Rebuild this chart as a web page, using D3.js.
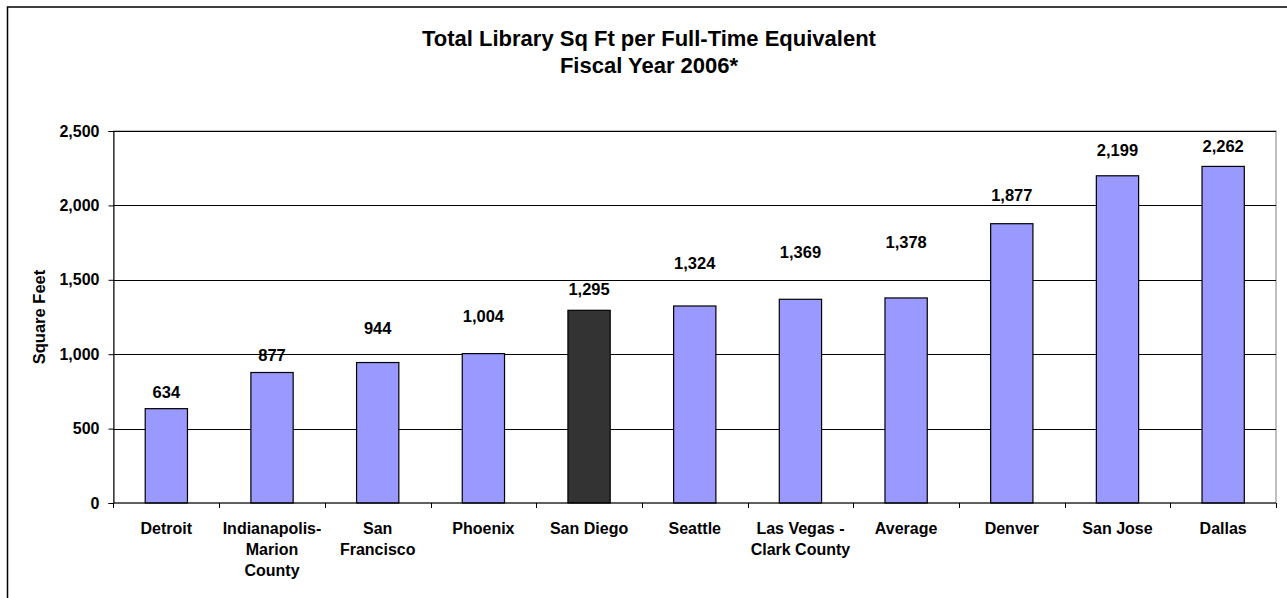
<!DOCTYPE html>
<html>
<head>
<meta charset="utf-8">
<script src="https://cdn.jsdelivr.net/npm/d3@7"></script>
<style>
  html, body { margin: 0; padding: 0; background: #fff; }
  svg { display: block; font-family: "Liberation Sans", Arial, sans-serif; }
</style>
</head>
<body>
<svg id="chart" width="1287" height="598"></svg>
<script>
// ---- data ----
const categories = [
  ["Detroit"],
  ["Indianapolis-", "Marion", "County"],
  ["San", "Francisco"],
  ["Phoenix"],
  ["San Diego"],
  ["Seattle"],
  ["Las Vegas -", "Clark County"],
  ["Average"],
  ["Denver"],
  ["San Jose"],
  ["Dallas"]
];
const values = [634, 877, 944, 1004, 1295, 1324, 1369, 1378, 1877, 2199, 2262];
const highlighted = ["San Diego"];
const yTicks = [0, 500, 1000, 1500, 2000, 2500];
const titleLines = ["Total Library Sq Ft per Full-Time Equivalent", "Fiscal Year 2006*"];
const yTitle = "Square Feet";

// ---- layout / style ----
const labelGap = [11, 12, 29, 32, 15, 37, 41, 50, 23, 20, 14]; // px above bar top (label placement as in picture)
const plot = { left: 113.5, right: 1276, top: 131, bottom: 503 };
const barColor = "#9999FF", hiColor = "#333333";

const svg = d3.select("#chart");
const keys = categories.map(c => c.join(" "));

// outer frame
svg.append("rect").attr("x", 7.5).attr("y", 7).attr("width", 1300).attr("height", 620)
  .attr("fill", "#fff").attr("stroke", "#000").attr("stroke-width", 1.5);

const x = d3.scaleBand().domain(keys).range([plot.left, plot.right]).paddingInner(0.6).paddingOuter(0.3);
const y = d3.scaleLinear().domain([0, 2500]).range([plot.bottom, plot.top]);
const step = x.step();

// plot border (gray)
svg.append("rect").attr("x", plot.left).attr("y", y(2500)).attr("width", plot.right - plot.left)
  .attr("height", plot.bottom - y(2500)).attr("fill", "none").attr("stroke", "#808080").attr("stroke-width", 1);

// gridlines
svg.append("g").selectAll("line").data(yTicks.filter(t => t > 0)).join("line")
  .attr("x1", plot.left).attr("x2", plot.right)
  .attr("y1", d => Math.round(y(d)) + 0.5).attr("y2", d => Math.round(y(d)) + 0.5)
  .attr("stroke", "#000").attr("stroke-width", 1);

// y axis
const yAxis = d3.axisLeft(y).tickValues(yTicks).tickSize(5).tickPadding(9).tickFormat(d3.format(","));
const gy = svg.append("g").attr("transform", `translate(${plot.left},0)`).call(yAxis);
gy.select(".domain").attr("stroke", "#000");
gy.selectAll(".tick line").attr("stroke", "#000");
gy.selectAll(".tick text").attr("font-size", 16).attr("font-weight", "bold").attr("fill", "#000")
  .attr("font-family", "Liberation Sans, Arial, sans-serif");

// bars
svg.append("g").selectAll("rect").data(values).join("rect")
  .attr("x", (d, i) => x(keys[i]))
  .attr("y", d => y(d))
  .attr("width", x.bandwidth())
  .attr("height", d => y(0) - y(d))
  .attr("fill", (d, i) => highlighted.includes(keys[i]) ? hiColor : barColor)
  .attr("stroke", "#000").attr("stroke-width", 1.2);

// x axis baseline and ticks
svg.append("line").attr("x1", plot.left).attr("x2", plot.right)
  .attr("y1", plot.bottom).attr("y2", plot.bottom).attr("stroke", "#000").attr("stroke-width", 1.2);
const boundaries = keys.map(k => x(k) + x.bandwidth() / 2 - step / 2).concat([x(keys[keys.length - 1]) + x.bandwidth() / 2 + step / 2]);
svg.append("g").selectAll("line").data(boundaries).join("line")
  .attr("x1", d => Math.round(d) + 0.5).attr("x2", d => Math.round(d) + 0.5)
  .attr("y1", plot.bottom).attr("y2", plot.bottom + 5).attr("stroke", "#000");

// category labels
const catG = svg.append("g").attr("font-size", 16).attr("font-weight", "bold").attr("text-anchor", "middle");
categories.forEach((lines, i) => {
  const cx = x(keys[i]) + x.bandwidth() / 2;
  const t = catG.append("text").attr("x", cx).attr("y", 534);
  lines.forEach((ln, j) => t.append("tspan").attr("x", cx).attr("y", 534 + j * 21).text(ln));
});

// value labels
svg.append("g").selectAll("text").data(values).join("text")
  .attr("x", (d, i) => x(keys[i]) + x.bandwidth() / 2)
  .attr("y", (d, i) => y(d) - labelGap[i])
  .attr("text-anchor", "middle").attr("font-size", 16.5).attr("font-weight", "bold")
  .text(d => d3.format(",")(d));

// title
svg.append("g").selectAll("text").data(titleLines).join("text")
  .attr("x", 649).attr("y", (d, i) => 46 + i * 27)
  .attr("text-anchor", "middle").attr("font-size", 22).attr("font-weight", "bold")
  .text(d => d);

// y title
svg.append("text").attr("transform", `translate(45,${(plot.top + plot.bottom) / 2}) rotate(-90)`)
  .attr("text-anchor", "middle").attr("font-size", 16.5).attr("font-weight", "bold").text(yTitle);
</script>
</body>
</html>
